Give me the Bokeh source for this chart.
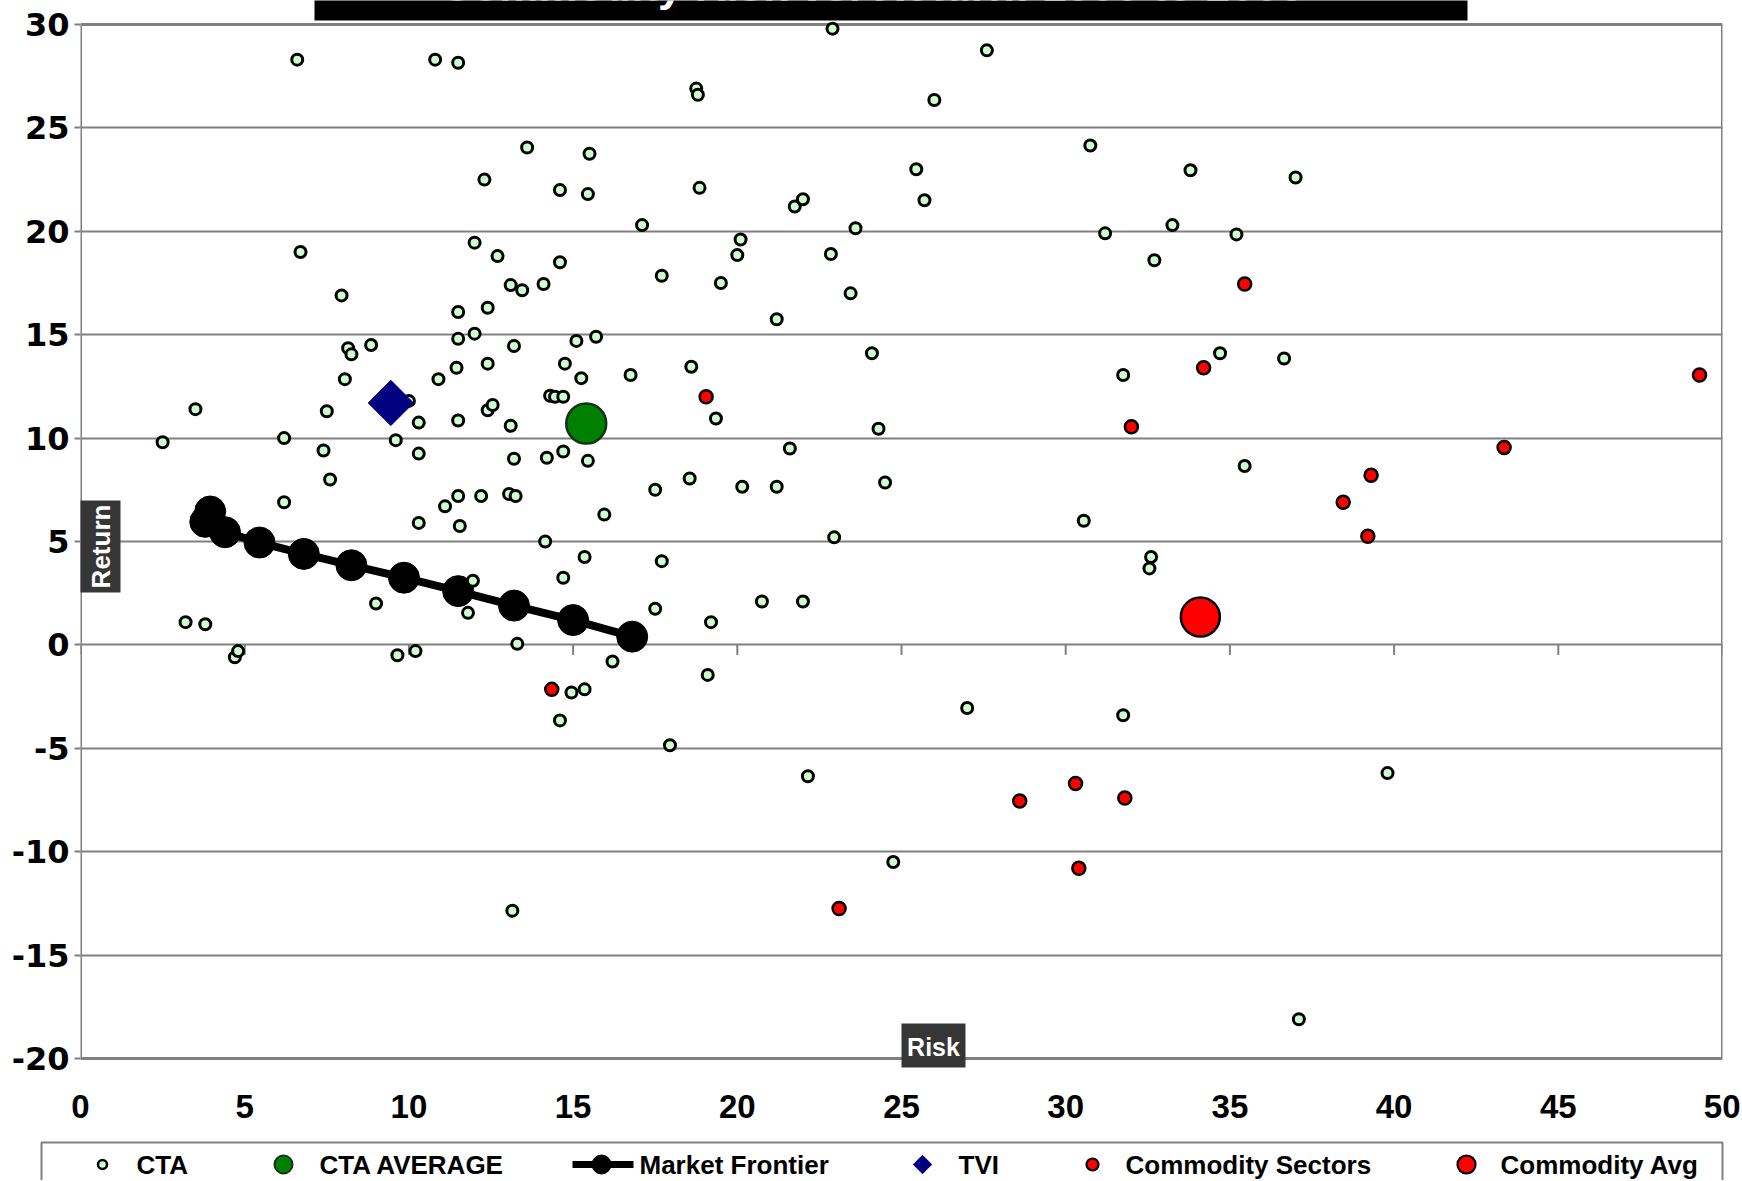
import math
from bokeh.plotting import figure
from bokeh.models import Range1d, FixedTicker
from bokeh.layouts import column
from bokeh.embed import file_html
from bokeh.resources import INLINE
from bokeh.core.properties import value

FONT = "Liberation Sans"
YFONT = "DejaVu Sans"

# ---------------- data ----------------
x_ticks = [0, 5, 10, 15, 20, 25, 30, 35, 40, 45, 50]
y_ticks = [-20, -15, -10, -5, 0, 5, 10, 15, 20, 25, 30]
x_tick_labels = [str(t) for t in x_ticks]
y_tick_labels = [str(t) for t in y_ticks]

cta_risk = [2.5, 3.5, 3.2, 3.8, 4.7, 4.8, 6.6, 6.7, 6.2, 6.2, 7.5, 7.4, 7.6, 7.95, 8.15, 8.25,
            8.05, 8.85, 9.0, 10.0, 9.6, 9.65, 10.2, 10.3, 10.3, 10.3, 10.8, 11.5, 10.9, 11.1,
            11.5, 11.5, 11.45, 11.5, 11.5, 11.55, 11.95, 11.8, 12.0, 12.0, 12.3, 12.4, 12.4,
            12.4, 12.55, 12.2, 12.7, 13.1, 13.45, 13.2, 13.1, 13.2, 13.05, 13.25, 13.3, 13.15,
            13.6, 14.1, 14.15, 14.2, 14.3, 14.45, 14.7, 14.6, 14.6, 14.75, 14.7, 14.7, 14.6,
            14.95, 15.35, 15.1, 15.25, 15.35, 15.45, 15.5, 15.45, 15.7, 15.95, 16.2, 16.75,
            17.1, 17.5, 17.5, 17.7, 17.7, 17.95, 18.6, 18.55, 18.75, 18.8, 18.85, 19.35, 19.1,
            19.2, 19.5, 20.0, 20.1, 20.15, 20.75, 21.2, 21.2, 21.6, 21.75, 22.0, 22.0, 22.15,
            22.85, 22.95, 22.9, 23.45, 23.6, 24.1, 24.3, 24.5, 24.75, 25.45, 25.7, 26.0, 27.0,
            27.6, 30.55, 30.75, 31.2, 31.75, 31.75, 32.7, 32.6, 32.55, 33.25, 33.8, 34.7, 35.2,
            35.45, 36.65, 37.0, 37.1, 39.8]
cta_return = [9.8, 11.4, 1.1, 1.0, -0.6, -0.3, 28.3, 19.0, 10.0, 6.9, 11.3, 9.4, 8.0, 16.9, 14.35,
              14.05, 12.85, 14.5, 2.0, 11.8, 9.9, -0.5, -0.3, 10.75, 9.25, 5.9, 28.3, 28.15, 12.85,
              6.7, 16.1, 14.8, 13.4, 10.85, 7.2, 5.75, 3.1, 1.55, 15.05, 19.45, 22.5, 16.3, 13.6,
              11.35, 11.6, 7.2, 18.8, 17.4, 17.15, 14.45, 10.6, 9.0, 7.3, 7.2, 0.05, -12.85,
              24.05, 17.45, 5.0, 9.05, 12.05, 12.0, 12.0, 22.0, 18.5, 13.6, 9.35, 3.25, -3.65,
              -2.3, -2.15, 14.7, 12.9, 4.25, 8.9, 23.75, 21.8, 14.9, 6.3, -0.8, 13.05, 20.3, 7.5,
              1.75, 4.05, 17.85, -4.85, 13.45, 8.05, 26.9, 26.6, 22.1, 10.95, -1.45, 1.1, 17.5,
              18.85, 19.6, 7.65, 2.1, 15.75, 7.65, 9.5, 21.2, 21.55, 2.1, -6.35, 18.9, 5.2, 29.8,
              17.0, 20.15, 14.1, 10.45, 7.85, -10.5, 23.0, 21.5, 26.35, -3.05, 28.75, 6.0, 24.15,
              19.9, 13.05, -3.4, 18.6, 4.25, 3.7, 20.3, 22.95, 14.1, 19.85, 8.65, 13.85, 22.6,
              -18.1, -6.2]

cta_avg_risk = [15.4]
cta_avg_return = [10.7]

frontier_risk = [3.8, 3.95, 4.4, 5.45, 6.8, 8.25, 9.85, 11.5, 13.2, 15.0, 16.8]
frontier_return = [5.95, 6.45, 5.45, 4.95, 4.4, 3.85, 3.25, 2.6, 1.9, 1.2, 0.4]

tvi_risk = [9.45]
tvi_return = [11.7]

sector_risk = [19.05, 14.35, 35.45, 34.2, 49.3, 32.0, 43.35, 39.3, 38.45, 39.2, 30.3, 28.6, 31.8,
               30.4, 23.1]
sector_return = [12.0, -2.15, 17.45, 13.4, 13.05, 10.55, 9.55, 8.2, 6.9, 5.25, -6.7, -7.55, -7.4,
                 -10.8, -12.75]

comm_avg_risk = [34.1]
comm_avg_return = [1.35]

series_names = ["CTA", "CTA AVERAGE", "Market Frontier", "TVI", "Commodity Sectors", "Commodity Avg"]
title_text = "Commodity Risk vs. Return: 1990 to 2008"
x_title = "Risk"
y_title = "Return"

# ---------------- styles / layout ----------------
GRAY = "#808080"
CTA_FILL = "#ccffcc"
GREEN = "#008000"
RED = "#ff0000"
NAVY = "#000080"
LABEL_BG = "#363636"

X0, X1, Y0, Y1 = 0, 50, -20, 30
PLOT_L, PLOT_R, PLOT_T, PLOT_B = 80, 1722, 24, 1058   # pixel box of the value area
EXT_TOP, EXT_BOT = 24, 10                               # frame reaches a bit beyond it
TOTAL_W, MAIN_H, LEG_H = 1740, 1140, 40

dx = (X1 - X0) / (PLOT_R - PLOT_L)
dy = (Y1 - Y0) / (PLOT_B - PLOT_T)


def X(px):
    return X0 + (px - PLOT_L) * dx


def Y(py):
    return Y1 + (PLOT_T - py) * dy


frame_h = (PLOT_B - PLOT_T) + EXT_TOP + EXT_BOT
p = figure(width=TOTAL_W, height=MAIN_H,
           x_range=Range1d(X0, X1), y_range=Range1d(Y(PLOT_B + EXT_BOT), Y(PLOT_T - EXT_TOP)),
           output_backend="svg", toolbar_location=None,
           min_border_left=PLOT_L, min_border_right=TOTAL_W - PLOT_R,
           min_border_top=PLOT_T - EXT_TOP, min_border_bottom=MAIN_H - frame_h - (PLOT_T - EXT_TOP))
p.background_fill_color = "white"
p.border_fill_color = "white"
p.outline_line_color = None
try:
    p.frame_align = False
except Exception:
    pass

# axes
p.xaxis.ticker = FixedTicker(ticks=x_ticks)
p.xaxis.major_label_overrides = dict(zip(x_ticks, x_tick_labels))
p.xaxis.axis_line_color = None
p.xaxis.major_tick_line_color = None
p.xaxis.minor_tick_line_color = None
p.xaxis.major_label_standoff = 20
p.xaxis.major_label_text_font = FONT
p.xaxis.major_label_text_font_size = "33px"
p.yaxis.ticker = FixedTicker(ticks=y_ticks)
p.yaxis.major_label_overrides = dict(zip(y_ticks, y_tick_labels))
p.yaxis.axis_line_color = None
p.yaxis.major_tick_line_color = GRAY
p.yaxis.major_tick_line_width = 2
p.yaxis.major_tick_out = 6
p.yaxis.major_tick_in = 0
p.yaxis.minor_tick_line_color = None
p.yaxis.major_label_standoff = 5
p.yaxis.major_label_text_font = YFONT
p.yaxis.major_label_text_font_size = "32px"
for ax in (p.xaxis, p.yaxis):
    ax.major_label_text_font_style = "bold"
    ax.major_label_text_color = "black"

p.xgrid.visible = False
p.ygrid.ticker = FixedTicker(ticks=y_ticks[1:-1])
p.ygrid.grid_line_color = GRAY
p.ygrid.grid_line_width = 2

# plot-area border
p.segment(x0=[X0, X0, X0, X1], y0=[Y0, Y1, Y0, Y0], x1=[X1, X1, X0, X1], y1=[Y0, Y1, Y1, Y1],
          line_color=GRAY, line_width=3)

# tick marks on the x axis that crosses at y = 0
tick_len = 10 * dy
p.segment(x0=x_ticks, y0=[0] * len(x_ticks), x1=x_ticks, y1=[-tick_len] * len(x_ticks),
          line_color=GRAY, line_width=2)

# series
p.line(frontier_risk, frontier_return, line_color="black", line_width=8)
p.scatter(frontier_risk, frontier_return, size=31, fill_color="black", line_color="black")
p.scatter(cta_risk, cta_return, size=11, fill_color=CTA_FILL, line_color="black", line_width=3)
p.scatter(sector_risk, sector_return, size=13, fill_color=RED, line_color="black", line_width=2.5)
p.scatter(tvi_risk, tvi_return, marker="square", angle=math.pi / 4, size=32,
          fill_color=NAVY, line_color=NAVY, line_width=1)
p.scatter(cta_avg_risk, cta_avg_return, size=40, fill_color=GREEN, line_color="#143214", line_width=2.5)
p.scatter(comm_avg_risk, comm_avg_return, size=39, fill_color=RED, line_color="black", line_width=2.5)

# axis title boxes
p.quad(left=[X(78)], right=[X(120)], top=[Y(500)], bottom=[Y(592)], fill_color=LABEL_BG, line_color=None)
p.text(x=[X(100)], y=[Y(546)], text=[y_title], angle=math.pi / 2,
       text_font=value(FONT), text_font_style="bold", text_font_size="26px",
       text_color="white", text_align="center", text_baseline="middle")
p.quad(left=[X(901)], right=[X(965)], top=[Y(1023)], bottom=[Y(1067)], fill_color=LABEL_BG, line_color=None)
p.text(x=[X(933)], y=[Y(1046)], text=[x_title],
       text_font=value(FONT), text_font_style="bold", text_font_size="25px",
       text_color="white", text_align="center", text_baseline="middle")

# title bar, cut off by the top edge as in the original
p.quad(left=[X(314)], right=[X(1467)], top=[Y(-20)], bottom=[Y(20)], fill_color="black", line_color=None)
p.text(x=[X(440)], y=[Y(-15)], text=[title_text],
       text_font=value(FONT), text_font_style="bold", text_font_size="44px",
       text_color="white", text_align="left", text_baseline="alphabetic")

# ---------------- legend strip ----------------
q = figure(width=TOTAL_W, height=LEG_H, x_range=Range1d(0, TOTAL_W), y_range=Range1d(LEG_H, 0),
           output_backend="svg", toolbar_location=None, x_axis_type=None, y_axis_type=None,
           min_border=0)
try:
    q.frame_align = False
except Exception:
    pass
q.grid.visible = False
q.outline_line_color = None
q.background_fill_color = "white"
q.border_fill_color = "white"
q.quad(left=[41], right=[PLOT_R], top=[2], bottom=[LEG_H + 10], fill_color=None,
       line_color=GRAY, line_width=2)
cy = 24
q.scatter([102], [cy], size=9, fill_color=CTA_FILL, line_color="black", line_width=2.5)
q.scatter([283], [cy], size=18, fill_color=GREEN, line_color="#143214", line_width=2)
q.line([572, 633], [cy, cy], line_color="black", line_width=7)
q.scatter([601], [cy], size=19, fill_color="black", line_color="black")
q.scatter([922], [cy], marker="square", angle=math.pi / 4, size=13, fill_color=NAVY, line_color=NAVY)
q.scatter([1092], [cy], size=12, fill_color=RED, line_color="black", line_width=2.2)
q.scatter([1466], [cy], size=18, fill_color=RED, line_color="black", line_width=2.2)
q.text(x=[136, 319, 639, 958, 1125, 1500], y=[cy] * 6, text=series_names,
       text_font=value(FONT), text_font_style="bold", text_font_size="26px",
       text_color="black", text_align="left", text_baseline="middle")

layout = column(p, q, spacing=0)
open("out.html", "w").write(file_html(layout, INLINE))
